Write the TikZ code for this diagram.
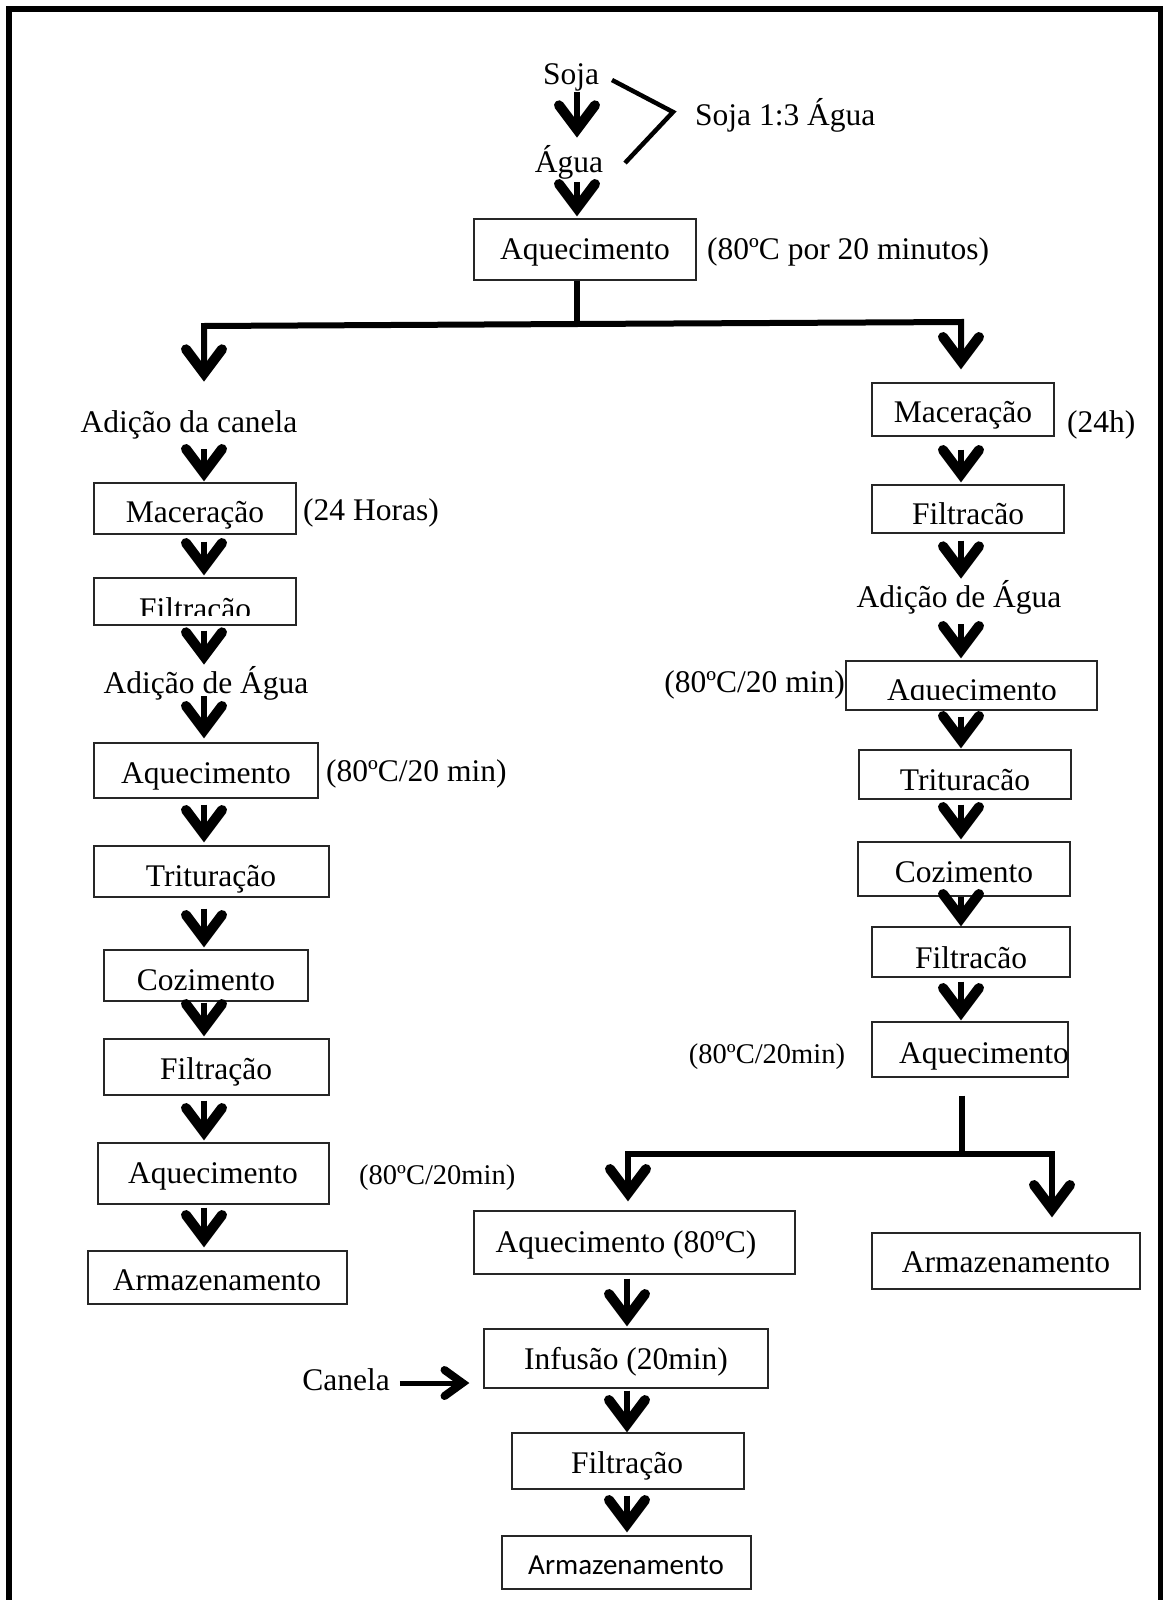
\documentclass[tikz,border=0pt]{standalone}
\usepackage{fontspec}
\setmainfont{Liberation Serif}
\newfontfamily\carlito{Carlito}
\usetikzlibrary{arrows.meta,fit,calc}
\begin{document}
\begin{tikzpicture}[x=1pt,y=-1pt,
  box/.style={draw=black!85, line width=1.3pt, inner sep=0pt},
  txt/.style={inner sep=0pt, yshift=-4pt, font=\fontsize{31.5}{36}\selectfont, text height=21.4pt, text depth=6.9pt},
  stxt/.style={txt, font=\fontsize{28.5}{34}\selectfont},
  lin/.style={line width=6pt},
  arr/.style={line width=6pt, -{Straight Barb[length=24pt,width=36pt,line width=4pt 1,line cap=round,line join=miter]}},
  arrs/.style={line width=5pt, -{Straight Barb[length=18pt,width=26pt,line width=3pt 1,line cap=round,line join=miter]}},
]
\path[fill=white, use as bounding box] (0,0) rectangle (1162,1600);
% frame
\draw[line width=6pt] (8.5,1600) -- (8.5,9.5) -- (1160.5,9.5) -- (1160.5,1600);

\coordinate (L) at (204,0);
\coordinate (R) at (961,0);
\coordinate (M) at (577,0);
\coordinate (B) at (627,0);
\coordinate (R2) at (962,0);

% top
\node[txt] (soja) at (571,73) {Soja};
\node[txt] (agua) at (569,161) {Água};
\node[txt, anchor=west] (ratio) at (695,114) {Soja 1:3 Água};
\coordinate (k1) at (612,80);
\coordinate (k2) at (673,112);
\coordinate (k3) at (625,163);
\draw[line width=4.5pt] (k1) -- (k2) -- (k3);
\node[box, fit={(474,219)(696,280)}] (aq0) {};
\node[txt] (aq0t) at (585,248) {Aquecimento};
\node[txt, anchor=west] (aq0n) at (707,248) {(80ºC por 20 minutos)};

\draw[arr, shorten <=1pt, shorten >=13pt] (soja.south -| M) -- (agua.north -| M);
\draw[arr, shorten <=3pt, shorten >=2pt] (agua.south -| M) -- (aq0.north -| M);

% left column
\node[txt] (adc) at (189,421) {Adição da canela};
\node[box, fit={(94,483)(296,534)}] (mac1) {};
\node[txt] (mac1t) at (195,511) {Maceração};
\node[txt, anchor=west] (mac1n) at (303,509) {(24 Horas)};
\node[box, fit={(94,578)(296,625)}] (fil1) {};
\begin{scope}
  \clip (94,578) rectangle (296,615);
  \node[txt, yshift=4pt] (fil1t) at (195,612) {Filtracão};
\end{scope}
\node[txt] (ada1) at (206,682) {Adição de Água};
\node[box, fit={(94,743)(318,798)}] (aq1) {};
\node[txt] (aq1t) at (206,772) {Aquecimento};
\node[txt, anchor=west] (aq1n) at (326,770) {(80ºC/20 min)};
\node[box, fit={(94,846)(329,897)}] (tri1) {};
\node[txt] (tri1t) at (211,875) {Trituração};
\node[box, fit={(104,950)(308,1001)}] (coz1) {};
\node[txt] (coz1t) at (206,979) {Cozimento};
\node[box, fit={(104,1039)(329,1095)}] (fil2) {};
\node[txt] (fil2t) at (216,1068) {Filtração};
\node[box, fit={(98,1143)(329,1204)}] (aq2) {};
\node[txt] (aq2t) at (213,1172) {Aquecimento};
\node[stxt, anchor=west] (aq2n) at (359,1173) {(80ºC/20min)};
\node[box, fit={(88,1251)(347,1304)}] (arm1) {};
\node[txt] (arm1t) at (217,1279) {Armazenamento};

% right column
\node[box, fit={(872,383)(1054,436)}] (mac2) {};
\node[txt] (mac2t) at (963,411) {Maceração};
\node[txt, anchor=west] (mac2n) at (1067,421) {(24h)};
\node[box, fit={(872,485)(1064,533)}] (fil3) {};
\node[txt] (fil3t) at (968,513) {Filtracão};
\node[txt] (ada2) at (959,596) {Adição de Água};
\node[box, fit={(846,661)(1097,710)}] (aq3) {};
\begin{scope}
  \clip (846,661) rectangle (1097,699);
  \node[txt, yshift=4pt] (aq3t) at (972,693) {Aquecimento};
\end{scope}
\node[txt, anchor=east] (aq3n) at (845,681) {(80ºC/20 min)};
\node[box, fit={(859,750)(1071,799)}] (tri2) {};
\node[txt] (tri2t) at (965,779) {Trituracão};
\node[box, fit={(858,842)(1070,896)}] (coz2) {};
\node[txt] (coz2t) at (964,871) {Cozimento};
\node[box, fit={(872,927)(1070,977)}] (fil4) {};
\node[txt] (fil4t) at (971,957) {Filtracão};
\node[box, fit={(872,1022)(1068,1077)}] (aq4) {};
\node[txt] (aq4t) at (984,1052) {Aquecimento};
\node[stxt] (aq4n) at (767,1052) {(80ºC/20min)};

% bottom part
\node[box, fit={(474,1211)(795,1274)}] (aq5) {};
\node[txt] (aq5t) at (626,1241) {Aquecimento (80ºC)};
\node[box, fit={(872,1233)(1140,1289)}] (arm2) {};
\node[txt] (arm2t) at (1006,1261) {Armazenamento};
\node[box, fit={(484,1329)(768,1388)}] (inf) {};
\node[txt] (inft) at (626,1358) {Infusão (20min)};
\node[txt] (canela) at (346,1379) {Canela};
\node[box, fit={(512,1433)(744,1489)}] (fil5) {};
\node[txt] (fil5t) at (627,1462) {Filtração};
\node[box, fit={(502,1536)(751,1589)}] (arm3) {};
\node[txt, font=\carlito\fontsize{29}{34}\selectfont] (arm3t) at (626,1563) {Armazenamento};

% first branch
\coordinate (b1M) at (577,324);
\coordinate (b1L) at (204,326);
\coordinate (b1R) at (961,322);
\draw[lin] (aq0.south -| M) -- (b1M);
\draw[arr, line join=miter, shorten >=29pt] (b1M) -- (b1L) -- (adc.north -| L);
\draw[arr, line join=miter, shorten >=13pt] (b1M) -- (b1R) -- (mac2.north -| R);

% left arrows
\draw[arr, shorten <=10pt, shorten >=1pt] (adc.south -| L) -- (mac1.north -| L);
\draw[arr, shorten <=7pt, shorten >=2pt] (mac1.south -| L) -- (fil1.north -| L);
\draw[arr, shorten <=5pt, shorten >=7pt] (fil1.south -| L) -- (ada1.north -| L);
\draw[arr, shorten <=-4pt, shorten >=4pt] (ada1.south -| L) -- (aq1.north -| L);
\draw[arr, shorten <=6pt, shorten >=3pt] (aq1.south -| L) -- (tri1.north -| L);
\draw[arr, shorten <=11pt, shorten >=2pt] (tri1.south -| L) -- (coz1.north -| L);
\draw[arr, shorten <=1pt, shorten >=2pt] (coz1.south -| L) -- (fil2.north -| L);
\draw[arr, shorten <=5pt, shorten >=2pt] (fil2.south -| L) -- (aq2.north -| L);
\draw[arr, shorten <=3pt, shorten >=3pt] (aq2.south -| L) -- (arm1.north -| L);

% right arrows
\draw[arr, shorten <=13pt, shorten >=2pt] (mac2.south -| R) -- (fil3.north -| R);
\draw[arr, shorten <=7pt, shorten >=7pt] (fil3.south -| R) -- (ada2.north -| R);
\draw[arr, shorten <=10pt, shorten >=2pt] (ada2.south -| R) -- (aq3.north -| R);
\draw[arr, shorten <=6pt, shorten >=1pt] (aq3.south -| R) -- (tri2.north -| R);
\draw[arr, shorten <=5pt, shorten >=2pt] (tri2.south -| R) -- (coz2.north -| R);
\draw[arr] (coz2.south -| R) -- (fil4.north -| R);
\draw[arr, shorten <=4pt, shorten >=1pt] (fil4.south -| R) -- (aq4.north -| R);

% second branch
\coordinate (b2M) at (962,1154);
\coordinate (b2L) at (628,1154);
\coordinate (b2R) at (1052,1154);
\draw[lin, shorten <=18pt] (aq4.south -| R2) -- (b2M);
\draw[arr, line join=miter, shorten >=9pt] (b2M) -- (b2L) -- (aq5.north -| b2L);
\draw[arr, line join=miter, shorten >=15pt] (b2M) -- (b2R) -- (arm2.north -| b2R);

% bottom arrows
\draw[arr, shorten <=4pt, shorten >=2pt] (aq5.south -| B) -- (inf.north -| B);
\draw[arr, shorten <=2pt] (inf.south -| B) -- (fil5.north -| B);
\draw[arr, shorten <=6pt, shorten >=3pt] (fil5.south -| B) -- (arm3.north -| B);
\draw[arrs, shorten <=10pt, shorten >=14pt] (canela.east) -- (canela.east -| inf.west);
\end{tikzpicture}
\end{document}
